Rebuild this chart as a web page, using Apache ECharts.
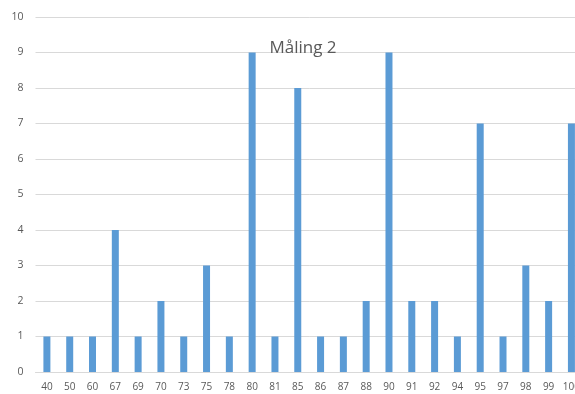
<!DOCTYPE html>
<html>
<head>
<meta charset="utf-8">
<style>
  html, body { margin: 0; padding: 0; background: #fff; overflow: hidden; }
  #chart { width: 583px; height: 394px; }
</style>
<script src="https://cdn.jsdelivr.net/npm/echarts@6/dist/echarts.min.js"></script>
</head>
<body>
<div id="chart"></div>
<script>
// Scores on the x axis, number of students with that score on the y axis
const categories = ['40', '50', '60', '67', '69', '70', '73', '75', '78', '80', '81', '85',
                    '86', '87', '88', '90', '91', '92', '94', '95', '97', '98', '99', '100'];
const counts = [1, 1, 1, 4, 1, 2, 1, 3, 1, 9, 1, 8, 1, 1, 2, 9, 2, 2, 1, 7, 1, 3, 2, 7];
const titleText = 'Måling 2';

// The plot runs a little past the right edge of the window, so the last bar is cut
const chart = echarts.init(document.getElementById('chart'), null, { renderer: 'canvas' });
const textColor = '#595959';
const fontFamily = '"Open Sans", "Noto Sans", sans-serif';

chart.setOption({
  animation: false,
  backgroundColor: '#ffffff',
  title: {
    text: titleText,
    left: 298,
    top: 35,
    textAlign: 'center',
    textStyle: { color: textColor, fontSize: 17, fontWeight: 'normal', fontFamily: fontFamily }
  },
  grid: { left: 35.5, right: 0, top: 17, bottom: 22 },
  xAxis: {
    type: 'category',
    data: categories,
    axisLine: { show: true, lineStyle: { color: '#d9d9d9', width: 1 } },
    axisTick: { show: false },
    axisLabel: { color: textColor, fontSize: 10, fontFamily: fontFamily, margin: 10, interval: 0 }
  },
  yAxis: {
    type: 'value',
    min: 0,
    max: 10,
    interval: 1,
    axisLine: { show: false },
    axisTick: { show: false },
    axisLabel: { color: textColor, fontSize: 10.5, fontFamily: fontFamily, margin: 12 },
    splitLine: { show: true, lineStyle: { color: '#d9d9d9', width: 1 } }
  },
  series: [{
    type: 'bar',
    data: counts,
    barWidth: 7,
    itemStyle: { color: '#5b9bd5' }
  }]
});
</script>
</body>
</html>
